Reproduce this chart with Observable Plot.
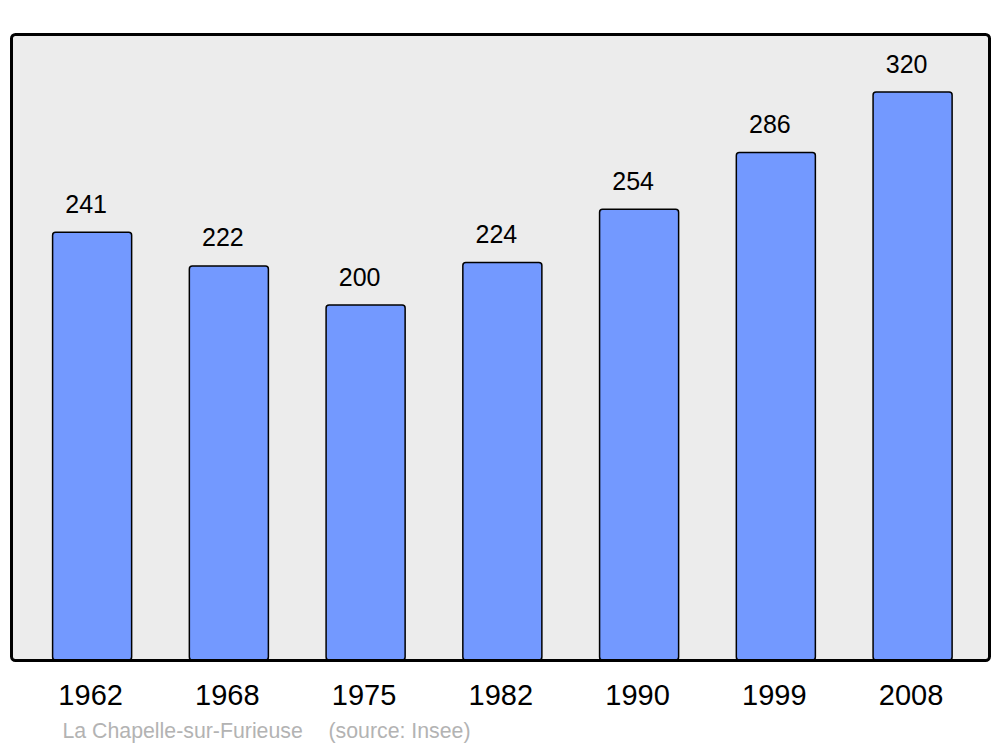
<!DOCTYPE html>
<html>
<head>
<meta charset="utf-8">
<script src="https://cdn.jsdelivr.net/npm/d3@7"></script>
<script src="https://cdn.jsdelivr.net/npm/@observablehq/plot@0.6"></script>
<style>
  html, body { margin: 0; padding: 0; background: #fff; }
  svg { font-family: "Liberation Sans", Arial, sans-serif; }
</style>
</head>
<body>
<div id="chart"></div>
<script>
const years = ["1962", "1968", "1975", "1982", "1990", "1999", "2008"];
const population = [241, 222, 200, 224, 254, 286, 320];
const captionPlace = "La Chapelle-sur-Furieuse";
const captionSource = "(source: Insee)";

const data = years.map((y, i) => ({year: y, value: population[i]}));

const chart = Plot.plot({
  width: 1000,
  height: 747,
  marginTop: 34,
  marginBottom: 87,
  marginLeft: 11,
  marginRight: 11,
  style: {background: "#fff", fontFamily: "Liberation Sans, Arial, sans-serif"},
  x: {domain: years, paddingInner: 0.422, paddingOuter: 0.287, align: 0.53, round: false, label: null},
  y: {domain: [0, 352.7], axis: null},
  marks: [
    Plot.frame({fill: "#ececec", stroke: null}),
    Plot.barY(data, {x: "year", y: "value", fill: "#7399ff", stroke: "#000", strokeWidth: 1.5, rx: 3}),
    Plot.text(data, {x: "year", y: "value", text: d => String(d.value), dx: -6.5, dy: -28, fontSize: 25, fill: "#000", lineAnchor: "middle"}),
    Plot.frame({stroke: "#000", strokeWidth: 3, rx: 4, fill: "none"}),
    Plot.axisX({tickSize: 0, tickPadding: 24, fontSize: 29, dx: -2, label: null, color: "#000"}),
    Plot.text([captionPlace], {frameAnchor: "bottom-left", dx: 51, dy: 77, fontSize: 21.3, fill: "#b3b3b3", textAnchor: "start"}),
    Plot.text([captionSource], {frameAnchor: "bottom-left", dx: 317, dy: 77, fontSize: 21.3, fill: "#b3b3b3", textAnchor: "start"})
  ]
});
document.getElementById("chart").appendChild(chart);
</script>
</body>
</html>
